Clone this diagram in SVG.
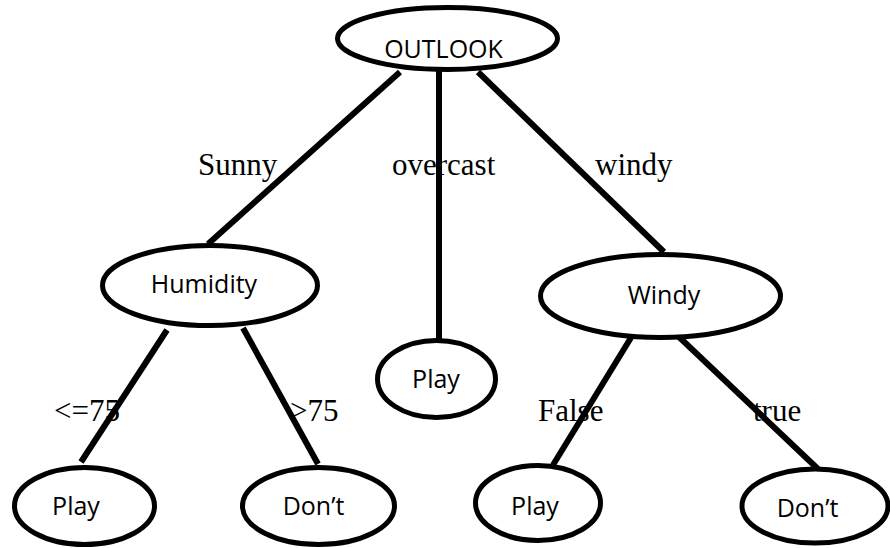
<svg xmlns="http://www.w3.org/2000/svg" width="890" height="548" viewBox="0 0 890 548">
  <style>
    .node ellipse { fill: #ffffff; stroke: #000000; stroke-width: 5; }
    .node text { font-family: "Open Sans", "Noto Sans", sans-serif; font-size: 25px; fill: #000000; text-anchor: middle; }
    .edge line { stroke: #000000; stroke-width: 6; stroke-linecap: butt; }
    .lbl { font-family: "Liberation Serif", "Times New Roman", serif; font-size: 31px; fill: #000000; }
  </style>
  <rect width="890" height="548" fill="#ffffff"/>

  <!-- branch labels (drawn under the connectors) -->
  <g id="labels">
    <text class="lbl" x="198" y="175">Sunny</text>
    <text class="lbl" x="392" y="175">overcast</text>
    <text class="lbl" x="595" y="175">windy</text>
    <text class="lbl" x="54" y="421">&lt;=75</text>
    <text class="lbl" x="290" y="421">&gt;75</text>
    <text class="lbl" x="538" y="421">False</text>
    <text class="lbl" x="753" y="421">true</text>
  </g>

  <!-- connectors -->
  <g id="edges" class="edge">
    <line x1="400" y1="72" x2="208" y2="244"/>
    <line x1="439" y1="70" x2="439" y2="340"/>
    <line x1="478" y1="72" x2="664" y2="252"/>
    <line x1="167" y1="330" x2="81" y2="462"/>
    <line x1="243" y1="328" x2="318" y2="464"/>
    <line x1="632" y1="336" x2="553" y2="465"/>
    <line x1="678" y1="336" x2="818" y2="469"/>
  </g>

  <!-- nodes -->
  <g id="outlook" class="node">
    <ellipse cx="447.5" cy="38.5" rx="110" ry="31"/>
    <text x="443.5" y="58">OUTLOOK</text>
  </g>
  <g id="humidity" class="node">
    <ellipse cx="210" cy="285.5" rx="107.5" ry="40"/>
    <text x="204" y="293">Humidity</text>
  </g>
  <g id="overcast-play" class="node">
    <ellipse cx="436.5" cy="379" rx="59" ry="38.5"/>
    <text x="436" y="388">Play</text>
  </g>
  <g id="windy" class="node">
    <ellipse cx="660.5" cy="296" rx="120" ry="41.5"/>
    <text x="664" y="304">Windy</text>
  </g>
  <g id="humidity-play" class="node">
    <ellipse cx="84.5" cy="506" rx="70" ry="38.5"/>
    <text x="76" y="515">Play</text>
  </g>
  <g id="humidity-dont" class="node">
    <ellipse cx="318.5" cy="506" rx="76" ry="38.5"/>
    <text x="313.5" y="515">Don’t</text>
  </g>
  <g id="windy-play" class="node">
    <ellipse cx="538" cy="503" rx="62.5" ry="37.5"/>
    <text x="535" y="515">Play</text>
  </g>
  <g id="windy-dont" class="node">
    <ellipse cx="815" cy="506" rx="73" ry="37"/>
    <text x="807.5" y="517">Don’t</text>
  </g>
</svg>
